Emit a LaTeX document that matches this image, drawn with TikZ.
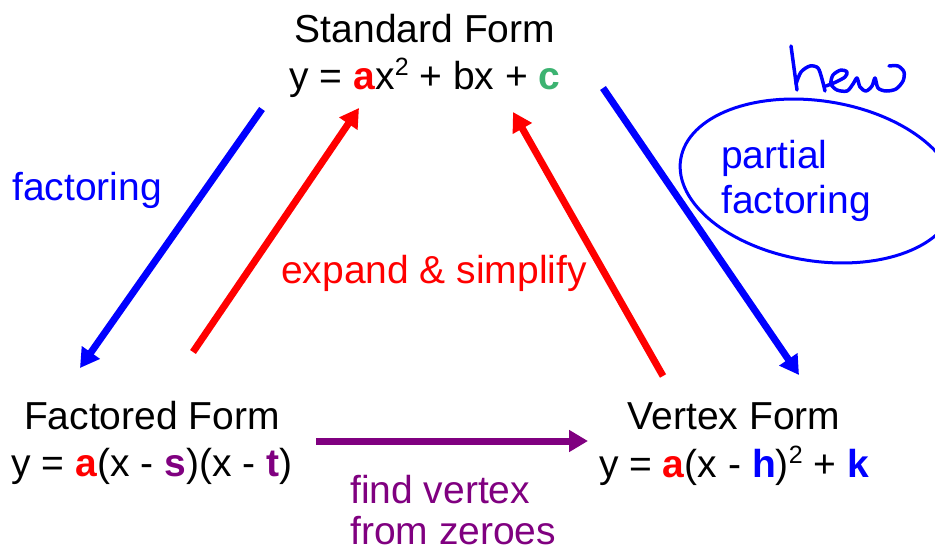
\documentclass[tikz,border=0pt]{standalone}
\usepackage{fontspec}
\setmainfont{Liberation Sans}
\usetikzlibrary{arrows.meta}
\definecolor{fred}{RGB}{255,0,0}
\definecolor{fblue}{RGB}{0,0,255}
\definecolor{fpurple}{RGB}{128,0,128}
\definecolor{fgreen}{RGB}{60,179,113}
\newcommand{\sqtwo}{\raisebox{14pt}{\fontsize{25}{25}\selectfont 2}}
\newcommand{\rb}[1]{\textcolor{fred}{\textbf{#1}}}
\newcommand{\pb}[1]{\textcolor{fpurple}{\textbf{#1}}}
\newcommand{\bb}[1]{\textcolor{fblue}{\textbf{#1}}}
\newcommand{\gb}[1]{\textcolor{fgreen}{\textbf{#1}}}
\begin{document}
\begin{tikzpicture}[x=1pt,y=-1pt,
  lbl/.style={inner sep=0pt, font=\fontsize{39}{46}\selectfont},
  conn/.style={line width=7pt, -{Triangle[length=19pt,width=21pt]}},
  pen/.style={fblue, line width=3.5pt, line cap=round, line join=round}
]
\useasboundingbox[fill=white] (0,0) rectangle (935,554);
\clip (0,0) rectangle (935,554);
% titles and equations
\node[lbl,anchor=base] (stdT) at (425,42) {Standard Form};
\node[lbl,anchor=base] (stdE) at (425,89) {y = \rb{a}x\sqtwo{} + bx + \gb{c}};
\node[lbl,anchor=base] (facT) at (152,429) {Factored Form};
\node[lbl,anchor=base] (facE) at (152,476) {y = \rb{a}(x - \pb{s})(x - \pb{t})};
\node[lbl,anchor=base] (verT) at (734,429) {Vertex Form};
\node[lbl,anchor=base] (verE) at (734,477) {y = \rb{a}(x - \bb{h})\sqtwo{} + \bb{k}};
% labels
\node[lbl,anchor=base west,text=fblue] (lfac) at (12,200) {factoring};
\node[lbl,anchor=base,text=fred] (lexp) at (434,283) {expand \& simplify};
\node[lbl,anchor=base west,text=fblue] (lpar1) at (721,168) {partial};
\node[lbl,anchor=base west,text=fblue] (lpar2) at (721,213) {factoring};
\node[lbl,anchor=base west,text=fpurple] (lfind1) at (350,503) {find vertex};
\node[lbl,anchor=base west,text=fpurple] (lfind2) at (350,544) {from zeroes};
% arrow end points
\coordinate (a1s) at (262,109);
\coordinate (a1e) at (80,368);
\coordinate (a2s) at (193,352);
\coordinate (a2e) at (359,108);
\coordinate (a3s) at (663,376);
\coordinate (a3e) at (513,112);
\coordinate (a4s) at (603,88);
\coordinate (a4e) at (799,375);
\coordinate (a5s) at (316,441);
\coordinate (a5e) at (588,441);
% ellipse (hand drawn)
\draw[pen, line width=3pt, rotate around={-9:(818,181)}] (818,181) ellipse [x radius=139, y radius=80];
% arrows
\draw[conn,fblue] (a1s) -- (a1e);
\draw[conn,fred] (a2s) -- (a2e);
\draw[conn,fred] (a3s) -- (a3e);
\draw[conn,fblue] (a4s) -- (a4e);
\draw[conn,fpurple] (a5s) -- (a5e);
% handwritten "new"
\draw[pen] plot[smooth] coordinates {(791,46)(794,68)(797,90)};
\draw[pen] plot[smooth] coordinates {(796,84)(801,72)(810,66)(818,68)(822,79)(825,91)};
\draw[pen] plot[smooth] coordinates {(826,86)(836,82)(845,77)(847,72)(841,70)(833,75)(831,84)(837,90)(847,91)(853,84)(857,78)(860,87)(866,91)(872,86)(875,78)(878,88)(886,91)(896,89)(903,81)(904,72)(898,66)(889,66)};
\end{tikzpicture}
\end{document}
